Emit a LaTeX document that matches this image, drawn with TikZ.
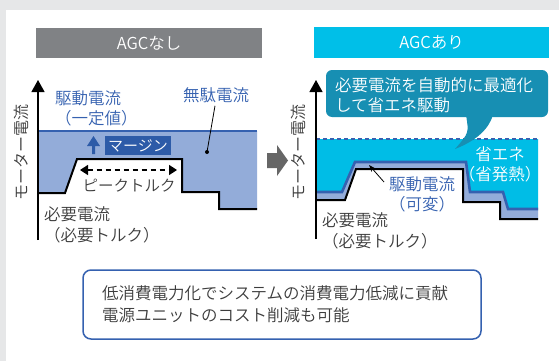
\documentclass[tikz,border=0pt]{standalone}
\usepackage{fontspec}
\setmainfont{Noto Sans CJK JP}[UprightFont=* DemiLight]
\usetikzlibrary{arrows.meta}
\definecolor{bggray}{HTML}{E6E7E8}
\definecolor{hdrgray}{HTML}{808285}
\definecolor{hdrcyan}{HTML}{00BFE8}
\definecolor{lblue}{HTML}{93ACD9}
\definecolor{dblue}{HTML}{3561B0}
\definecolor{mblue}{HTML}{2D5BA8}
\definecolor{cfill}{HTML}{00BDE6}
\definecolor{teal}{HTML}{178FB3}
\definecolor{txt}{HTML}{3C3C3C}
\definecolor{agray}{HTML}{666666}
\tikzset{
  hdr/.style={text=white, inner sep=0pt, font=\fontsize{16.5}{18}\selectfont},
  body/.style={text=txt, inner sep=0pt, align=left, font=\fontsize{16.5}{20}\selectfont},
  bluetxt/.style={body, text=dblue},
  ylab/.style={text=txt, inner sep=0pt, rotate=90, font=\fontsize{16}{18}\selectfont},
  axis/.style={line width=1.2pt, -{Triangle[length=12pt,width=13pt]}},
  curve/.style={line width=2pt, line join=miter},
}
\begin{document}
\begin{tikzpicture}[x=1pt,y=-1pt]
\useasboundingbox (0,0) rectangle (559,361);
\fill[bggray] (0,0) rectangle (559,361);
\fill[white] (6,10) rectangle (559,361);

% headers
\node[hdr, fill=hdrgray, minimum width=226pt, minimum height=30pt] (h1) at (149,43) {AGCなし};
\node[hdr, fill=hdrcyan, minimum width=235pt, minimum height=31pt] (h2) at (431.5,42.5) {AGCあり};

% ---------- left chart ----------
\fill[lblue] (38,131) -- (257,131) -- (257,209) -- (219,209) -- (219,192) -- (182,192) -- (182,159) -- (77,159) -- (65,193) -- (38,193) -- cycle;
\draw[dblue, line width=2pt] (38,131) -- (257,131);
\draw[curve] (38,193) -- (65,193) -- (77,159) -- (182,159) -- (182,192) -- (219,192) -- (219,209) -- (257,209);
\coordinate (la0) at (38,240);
\coordinate (la1) at (38,80);
\draw[axis] (la0) -- (la1);
\node[ylab] (yl1) at (21,152) {モーター電流};

\node[bluetxt, anchor=north west] (drv1) at (55,90) {駆動電流\\（一定値）};
\node[bluetxt] (waste) at (216,95) {無駄電流};
\coordinate (wdot) at (207,152);
\draw[black, line width=0.8pt] (waste.south) ++(-1,3) coordinate (wtop) -- (wdot);
\fill[black] (wdot) circle (2pt);

% margin
\fill[mblue] (92,154) -- (92,146) -- (87,146) -- (93.5,136) -- (100,146) -- (95,146) -- (95,154) -- cycle;
\node[fill=mblue, text=white, inner sep=0pt, minimum width=66pt, minimum height=19pt, font=\fontsize{15}{18}\selectfont] (mg) at (138,145.5) {マージン};

% peak torque
\coordinate (pk0) at (80,170);
\coordinate (pk1) at (177,170);
\draw[line width=1.5pt, dash pattern=on 5pt off 4pt, {Triangle[length=8pt,width=10pt]}-{Triangle[length=8pt,width=10pt]}] (pk0) -- (pk1);
\node[body, font=\fontsize{15.5}{18}\selectfont] (pkt) at (129,186) {ピークトルク};

\node[body, anchor=north west, font=\fontsize{16.5}{21}\selectfont] (req1) at (44,206) {必要電流\\（必要トルク）};

% ---------- middle arrow ----------
\fill[agray] (267,153) -- (277,153) -- (277,145) -- (288,160.5) -- (277,176) -- (277,168) -- (267,168) -- cycle;

% ---------- right chart ----------
\fill[cfill] (316,139) -- (538,139) -- (538,209) -- (508,209) -- (503,192) -- (470,192) -- (466,162) -- (355,162) -- (342,192) -- (316,192) -- cycle;
\fill[lblue] (316,192) -- (342,192) -- (355,162) -- (466,162) -- (470,192) -- (503,192) -- (508,209) -- (538,209)
  -- (538,219) -- (500,219) -- (500,202) -- (463,202) -- (463,169) -- (356,169) -- (345,200) -- (316,200) -- cycle;
\draw[dblue, line width=1.5pt, dash pattern=on 4pt off 3pt] (316,139) -- (538,139);
\draw[dblue, line width=2.6pt] (316,192) -- (342,192) -- (355,162) -- (466,162) -- (470,192) -- (503,192) -- (508,209) -- (538,209);
\draw[curve] (316,200) -- (345,200) -- (356,169) -- (463,169) -- (463,202) -- (500,202) -- (500,219) -- (538,219);
\coordinate (ra0) at (316,239);
\coordinate (ra1) at (316,80);
\draw[axis] (ra0) -- (ra1);
\node[ylab] (yl2) at (298,152) {モーター電流};

% callout
\fill[teal, rounded corners=6pt] (326,70) rectangle (548,117);
\fill[teal] (466,115) .. controls (469,133) .. (455,149) .. controls (478,140) and (489,128) .. (493,115) -- cycle;
\node[body, text=white, anchor=north west] (cl) at (335,77) {必要電流を自動的に最適化\\して省エネ駆動};

\node[body, text=white, align=center] (save) at (500,164.5) {省エネ\\（省発熱）};

\node[bluetxt, anchor=north west] (drv2) at (389,176) {駆動電流\\（可変）};
\coordinate (dv0) at (384,182);
\coordinate (dv1) at (369,165);
\draw[line width=0.8pt, -{Stealth[length=7pt,width=5pt]}] (dv0) -- (dv1);

\node[body, anchor=north west, font=\fontsize{16.5}{21}\selectfont] (req2) at (322,212) {必要電流\\（必要トルク）};

% ---------- bottom box ----------
\node[body, draw=dblue, line width=1.5pt, rounded corners=8pt, minimum width=398pt, minimum height=69pt, text width=360pt, font=\fontsize{16.5}{22}\selectfont] (sum) at (282,304.5) {低消費電力化でシステムの消費電力低減に貢献\\電源ユニットのコスト削減も可能};
\end{tikzpicture}
\end{document}
